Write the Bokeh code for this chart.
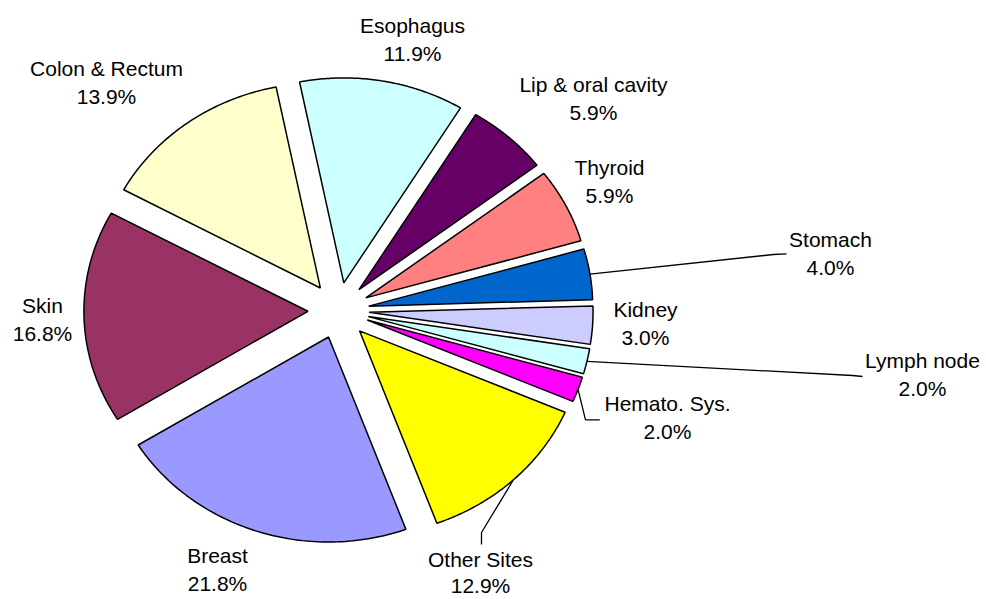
import numpy as np
from bokeh.plotting import figure
from bokeh.models import Range1d, ColumnDataSource
from bokeh.core.properties import value
from bokeh.embed import file_html
from bokeh.resources import INLINE

# ---- data ----
sites = ["Lip & oral cavity", "Thyroid", "Stomach", "Kidney", "Lymph node",
         "Hemato. Sys.", "Other Sites", "Breast", "Skin", "Colon & Rectum", "Esophagus"]
shares = [5.9, 5.9, 4.0, 3.0, 2.0, 2.0, 12.9, 21.8, 16.8, 13.9, 11.9]
colors = ["#660066", "#FF8080", "#0066CC", "#CCCCFF", "#CCFFFF",
          "#FF00FF", "#FFFF00", "#9999FF", "#993366", "#FFFFCC", "#CCFFFF"]

# ---- layout (pixel space of the page) ----
W, H = 986, 599
CX, CY = 338.0, 310.0      # pie centre
RX, RY = 224.0, 205.0      # pie radii (slightly stretched horizontally)
EXP = 28.0                 # explode distance
START = 31.4               # first slice start angle, degrees clockwise from 12 o'clock
KX = RX / RY

label_pos = {
    "Lip & oral cavity": (593, 84),
    "Thyroid": (609, 167),
    "Stomach": (830, 239),
    "Kidney": (645, 309),
    "Lymph node": (922, 360),
    "Hemato. Sys.": (667, 403),
    "Other Sites": (480, 559),
    "Breast": (217, 555),
    "Skin": (42, 305),
    "Colon & Rectum": (106, 68),
    "Esophagus": (412, 25),
}
line_gap = {"Other Sites": 26.0}
leader_pts = {
    "Stomach": [(773, 254), (786, 253.3)],
    "Lymph node": [(852, 375), (862, 376)],
    "Hemato. Sys.": [(585, 419.3), (599.3, 419.3)],
    "Other Sites": [(481, 532), (481, 544)],
}
LINE_GAP = 27.5

vals = np.array(shares, dtype=float)
frac = vals / vals.sum()
edges = START + 360.0 * np.concatenate([[0.0], np.cumsum(frac)])

p = figure(width=W, height=H, output_backend="svg", toolbar_location=None,
           x_range=Range1d(0, W), y_range=Range1d(H, 0),
           x_axis_location=None, y_axis_location=None, min_border=0)
p.grid.visible = False
p.outline_line_color = None
p.background_fill_color = "white"
p.border_fill_color = "white"

xs, ys, arc_mid = [], [], {}
for i, name in enumerate(sites):
    a0, a1 = np.radians(edges[i]), np.radians(edges[i + 1])
    am = 0.5 * (a0 + a1)
    cx = CX + EXP * KX * np.sin(am)
    cy = CY - EXP * np.cos(am)
    t = np.linspace(a0, a1, 80)
    px = np.concatenate([[cx], cx + RX * np.sin(t)])
    py = np.concatenate([[cy], cy - RY * np.cos(t)])
    xs.append(list(px))
    ys.append(list(py))
    arc_mid[name] = (cx + RX * np.sin(am), cy - RY * np.cos(am))

src = ColumnDataSource(dict(xs=xs, ys=ys, color=colors, site=sites))
p.patches("xs", "ys", source=src, fill_color="color", line_color="black", line_width=1.5)

# leader lines
for name, pts in leader_pts.items():
    sx, sy = arc_mid[name]
    lx = [sx] + [q[0] for q in pts]
    ly = [sy] + [q[1] for q in pts]
    p.line(lx, ly, line_color="black", line_width=1.3)

# labels
tx = [label_pos[n][0] for n in sites]
ty1 = [label_pos[n][1] for n in sites]
ty2 = [label_pos[n][1] + line_gap.get(n, LINE_GAP) for n in sites]
pct = [f"{v:.1f}%" for v in shares]
common = dict(text_font=value("Liberation Sans"), text_font_size="21px",
              text_align="center", text_baseline="middle", text_color="black")
p.text(x=tx, y=ty1, text=sites, **common)
p.text(x=tx, y=ty2, text=pct, **common)

open("out.html", "w").write(file_html(p, INLINE))
